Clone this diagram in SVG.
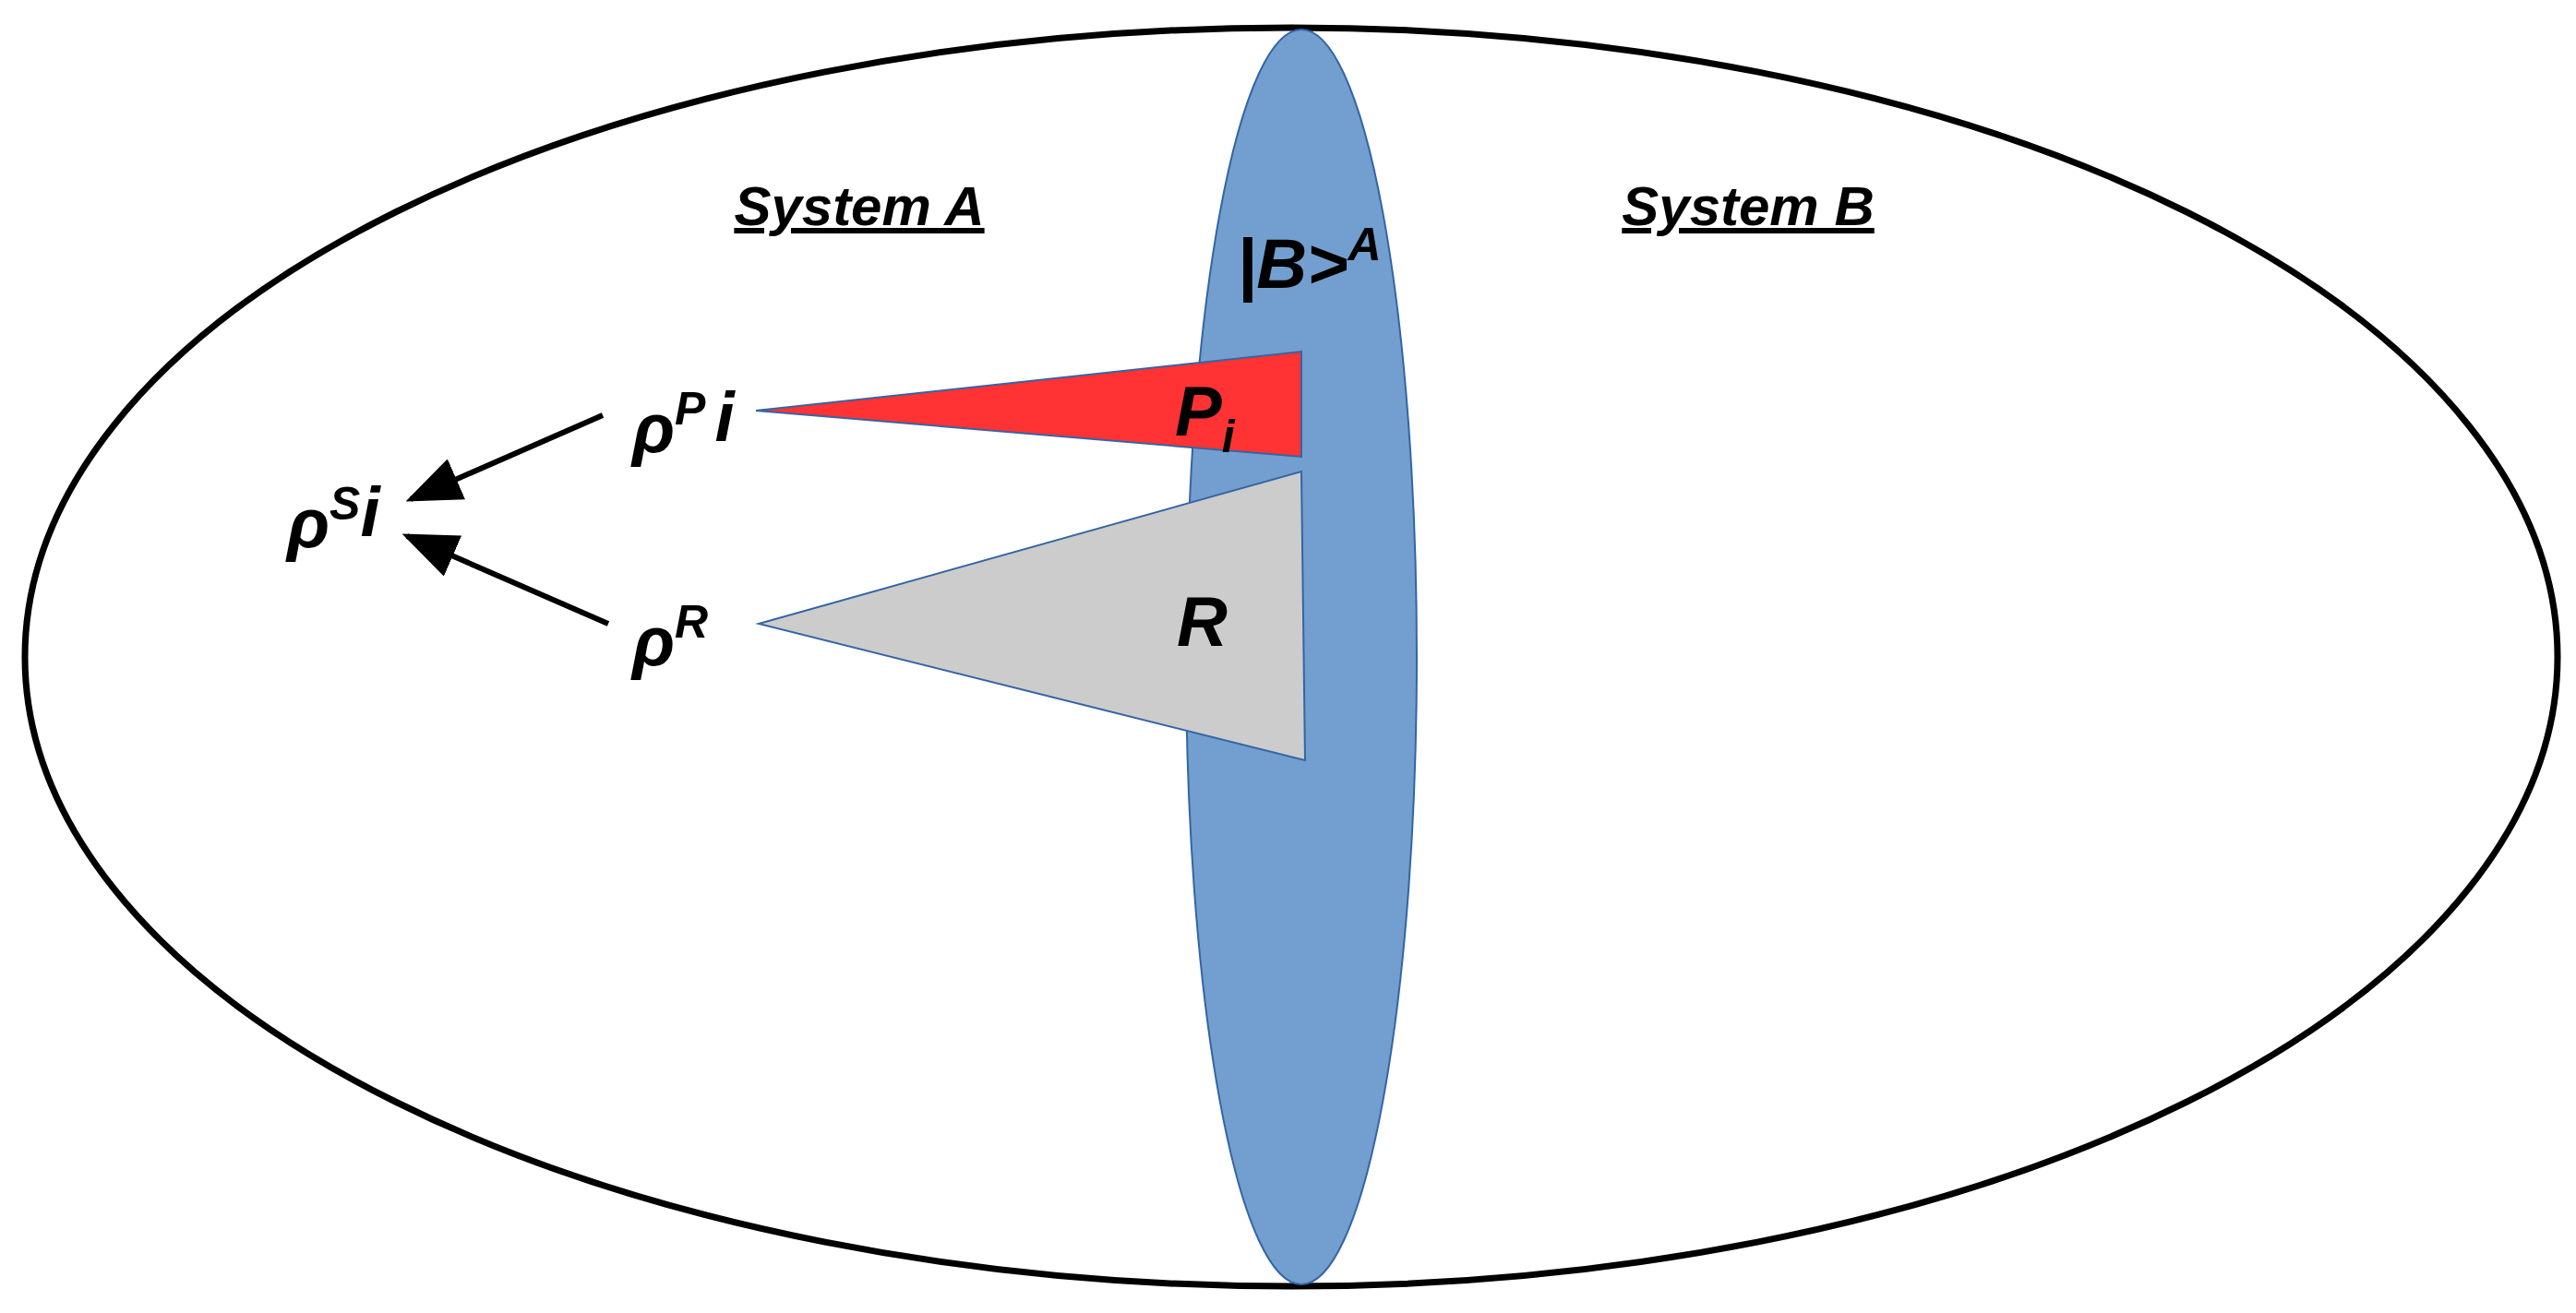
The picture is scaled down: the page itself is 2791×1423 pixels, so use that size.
<svg xmlns="http://www.w3.org/2000/svg" width="2791" height="1423" viewBox="0 0 2791 1423">
<style>
text{font-family:"Liberation Sans",Arial,sans-serif;font-weight:bold;font-style:italic;fill:#000}
.big{font-size:76px}.sup{font-size:50px}.title{font-size:60px;text-decoration:underline}
</style>
<defs><marker id="ah" markerWidth="10" markerHeight="8" refX="9" refY="4" orient="auto" markerUnits="strokeWidth"><path d="M0,0 L10,4 L0,8 Z" fill="#000"/></marker></defs>
<rect width="2791" height="1423" fill="#fff"/>
<g id="universe"><ellipse cx="1399" cy="712" rx="1372" ry="682" fill="#fff" stroke="#000" stroke-width="7"/></g>
<g id="boundary"><ellipse cx="1410" cy="712" rx="125" ry="680" fill="#729fcf" stroke="#3465a4" stroke-width="2"/></g>
<g id="Pi"><polygon points="819,445 1410,381 1410,495" fill="#ff3333" stroke="#3465a4" stroke-width="2"/><text class="big" x="1273" y="472">P<tspan class="sup" dy="18">i</tspan></text></g>
<g id="R"><polygon points="822,676 1410,511 1414,824" fill="#cccccc" stroke="#3465a4" stroke-width="2"/><text class="big" x="1275" y="700">R</text></g>
<text class="title" x="931" y="244" text-anchor="middle">System A</text>
<text class="title" x="1894" y="244" text-anchor="middle">System B</text>
<text class="big" x="1340" y="312">|B&gt;<tspan class="sup" dy="-30">A</tspan></text>
<g id="rhoP"><text class="big" x="685" y="490">ρ<tspan class="sup" dy="-30">P</tspan><tspan class="big" dx="10" dy="18">i</tspan></text></g>
<g id="rhoR"><text class="big" x="685" y="721">ρ<tspan class="sup" dy="-30">R</tspan></text></g>
<g id="rhoS"><text class="big" x="311" y="593">ρ<tspan class="sup" dy="-30">S</tspan><tspan class="big" dy="18">i</tspan></text></g>
<g id="connectors" stroke="#000" stroke-width="6" fill="none">
<line x1="653" y1="450" x2="445" y2="541" marker-end="url(#ah)"/>
<line x1="659" y1="676" x2="441" y2="581" marker-end="url(#ah)"/>
</g>
</svg>
